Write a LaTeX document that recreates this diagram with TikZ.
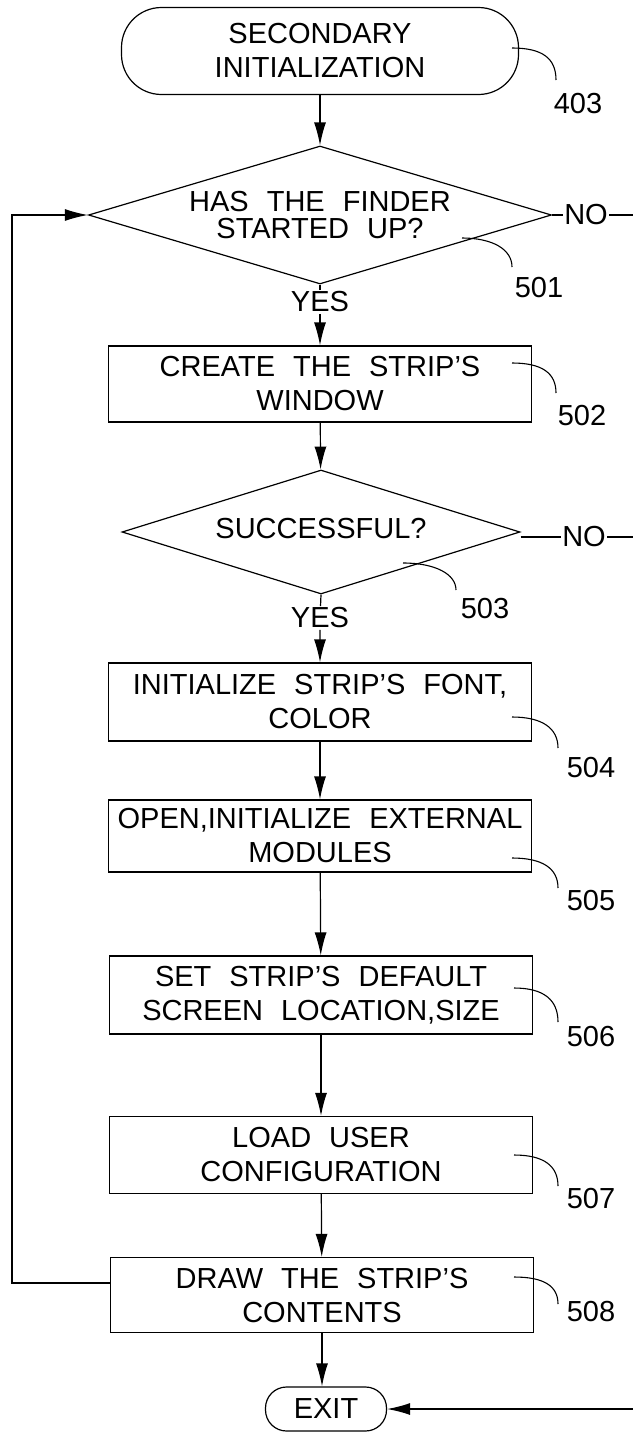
\documentclass[tikz,border=0pt]{standalone}
\usepackage{fontspec}
\setmainfont{Liberation Sans}
\usetikzlibrary{shapes.geometric,arrows.meta}
\newcommand{\chartfont}{\fontsize{29}{34}\selectfont\spaceskip=18pt plus 2pt minus 2pt}
\newcommand{\askfont}{\fontsize{29}{27}\selectfont\spaceskip=18pt plus 2pt minus 2pt}
\tikzset{>={Latex[length=23pt,width=12pt]}}
\tikzset{
  flow/.style={draw, line width=1.2pt},
  stepbox/.style={flow, rectangle, minimum width=423pt, minimum height=76pt, align=center, font=\chartfont},
  terminal/.style={flow, rectangle, align=center, font=\chartfont},
  decision/.style={flow, diamond, aspect=3, inner sep=0pt, align=center, font=\askfont},
  answer/.style={fill=white, inner sep=1.5pt, font=\chartfont},
  refnum/.style={font=\chartfont, inner sep=0pt},
  leader/.style={draw, line width=1.1pt}
}

\begin{document}
\begin{tikzpicture}[x=1pt,y=-1pt]
  \useasboundingbox (0,0) rectangle (632,1432);

  % flow steps
  \node[terminal, minimum width=397pt, minimum height=87pt, rounded corners=40pt] (start) at (320,51) {SECONDARY\\INITIALIZATION};
  \node[decision, minimum width=463pt, minimum height=138pt] (finder) at (320,215) {HAS THE FINDER\\STARTED UP?};
  \node[stepbox] (window) at (320,384) {CREATE THE STRIP'S\\WINDOW};
  \node[decision, minimum width=398pt, minimum height=124pt] (success) at (321,532) {\raisebox{8pt}{SUCCESSFUL?}};
  \node[stepbox, minimum height=78pt] (font) at (320,702) {INITIALIZE STRIP'S FONT,\\COLOR};
  \node[stepbox, minimum height=72pt] (modules) at (320,836) {OPEN,INITIALIZE EXTERNAL\\MODULES};
  \node[stepbox, minimum height=78pt] (location) at (321,995) {SET STRIP'S DEFAULT\\SCREEN LOCATION,SIZE};
  \node[stepbox, minimum height=77pt] (config) at (321,1155) {LOAD USER\\CONFIGURATION};
  \node[stepbox, minimum height=75pt] (contents) at (322,1295) {DRAW THE STRIP'S\\CONTENTS};
  \node[terminal, minimum width=121pt, minimum height=44pt, rounded corners=21pt] (exit) at (326,1409) {EXIT};

  % branch labels
  \node[answer] (yes_finder) at (320,302) {YES};
  \node[answer] (yes_success) at (320,618) {YES};
  \node[answer] (no_finder) at (586,215) {NO};
  \node[answer] (no_success) at (584,537) {NO};

  \node[coordinate] (loop_bot) at (12,1283) {};
  \node[coordinate] (loop_top) at (12,215) {};
  \node[coordinate] (ret_finder) at (645,215) {};
  \node[coordinate] (ret_success) at (645,537) {};
  \node[coordinate] (ret_exit) at (645,1409) {};

  \draw[flow,->] (start) -- (finder);
  \draw[flow,->] (finder) -- (yes_finder) -- (window);
  \draw[flow,->] (window) -- (success);
  \draw[flow,->] (success.south) -- (yes_success) -- (font);
  \draw[flow,->] (font) -- (modules);
  \draw[flow,->] (modules) -- (location);
  \draw[flow,->] (location) -- (config);
  \draw[flow,->] (config) -- (contents);
  \draw[flow,->] (contents.south) -- (contents.south |- exit.north);

  \draw[flow,->] ([yshift=12pt]contents.west) -- (loop_bot) -- (loop_top) -- (finder.west);
  \draw[flow] (finder.east) -- (no_finder) -- (ret_finder);
  \draw[flow] ([yshift=-5pt]success.east) -- (no_success) -- (ret_success);
  \draw[flow,->] (ret_finder) -- (ret_exit) -- (exit.east);

  % reference numerals
  \node[refnum] (lbl_403) at (578,104) {403};
  \node[refnum] (lbl_501) at (539,288) {501};
  \node[refnum] (lbl_502) at (582,416) {502};
  \node[refnum] (lbl_503) at (485,609) {503};
  \node[refnum] (lbl_504) at (591,768) {504};
  \node[refnum] (lbl_505) at (591,901) {505};
  \node[refnum] (lbl_506) at (591,1037) {506};
  \node[refnum] (lbl_507) at (591,1199) {507};
  \node[refnum] (lbl_508) at (591,1311) {508};

  \draw[leader] (512,48) .. controls +(30,0) and +(0,-22) .. (556,80);
  \draw[leader] (462,238) .. controls +(30,0) and +(0,-18) .. (512,267);
  \draw[leader] (512,363) .. controls +(30,0) and +(0,-20) .. (556,393);
  \draw[leader] (403,563) .. controls +(32,0) and +(0,-16) .. (456,590);
  \draw[leader] (512,717) .. controls +(30,0) and +(0,-20) .. (558,748);
  \draw[leader] (512,858) .. controls +(30,0) and +(0,-20) .. (558,888);
  \draw[leader] (514,988) .. controls +(30,0) and +(0,-22) .. (558,1022);
  \draw[leader] (514,1155) .. controls +(30,0) and +(0,-20) .. (558,1186);
  \draw[leader] (514,1277) .. controls +(30,0) and +(0,-18) .. (558,1304);

\end{tikzpicture}
\end{document}
